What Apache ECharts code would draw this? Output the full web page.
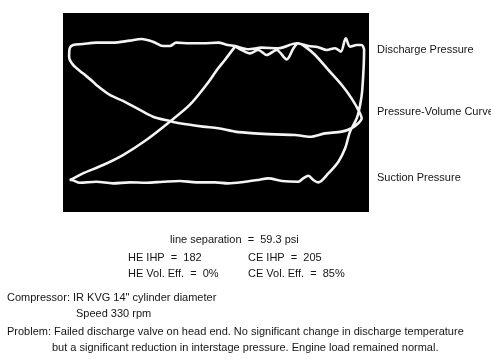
<!DOCTYPE html>
<html>
<head>
<meta charset="utf-8">
<script src="https://cdn.jsdelivr.net/npm/echarts@6/dist/echarts.min.js"></script>
<style>
html,body{margin:0;padding:0;background:#fff;}
#c{width:491px;height:359px;}
</style>
</head>
<body>
<div id="c"></div>
<script>
// Oscilloscope trace: x = cylinder volume (% of stroke), y = pressure (% of screen height)
const traceVolume = [
  56.2,58.4,61.1,63.8,66.6,69.8,73.1,75.3,76.9,79.1,82.4,86.7,91.1,94.3,96.5,97.6,96.5,94.3,91.1,85.6,80.7,75.8,69.3,62.7,56.2,50.7,45.8,38.1,34.9,29.4,25.1,19.6,15.3,10.9,9.8,6.5,3.3,2.0,2.2,
  3.3,6.5,10.9,16.3,21.8,25.6,29.4,32.7,34.9,37.0,41.4,45.8,50.7,53.9,56.2,60.6,64.9,70.4,76.4,80.2,83.4,86.2,88.9,90.8,92.4,93.8,96.0,97.6,98.4,
  97.8,97.1,96.0,93.8,92.2,90.0,86.7,83.4,
  81.8,80.2,78.5,76.9,71.5,67.1,63.8,59.5,54.0,49.7,43.6,38.1,32.7,27.2,21.8,16.3,10.9,5.5,2.7,2.2,
  2.7,6.5,13.1,19.6,27.2,34.9,41.4,46.8,50.7,52.9,56.2
];
const tracePressure = [
  83.4,81.4,79.7,81.4,78.9,81.4,76.7,82.3,84.8,83.1,78.9,71.4,63.8,57.1,51.3,47.1,44.6,42.1,40.4,39.5,37.8,38.7,39.0,39.5,40.4,42.1,42.9,44.6,45.7,47.9,51.3,55.8,58.8,63.8,65.5,69.7,73.9,78.0,82.3,
  83.9,84.4,85.1,85.1,86.1,86.9,85.6,83.4,83.4,85.1,84.8,84.8,85.1,83.9,83.4,81.8,82.6,82.3,84.8,83.4,82.8,81.4,82.3,80.6,87.3,83.1,83.9,83.9,81.4,
  61.3,53.8,47.1,40.4,32.0,25.3,19.4,14.9,
  16.1,18.2,16.9,15.2,15.6,16.9,16.1,15.2,14.4,14.9,14.9,15.6,15.2,14.7,14.9,14.4,15.2,14.7,16.1,16.1,
  16.4,19.4,23.6,28.6,36.2,45.4,53.8,63.8,72.2,76.4,83.1
];
const traceLabels = ["Discharge Pressure", "Pressure-Volume Curve", "Suction Pressure"];
const notes = {
  sep: "line separation  =  59.3 psi",
  heIhp: "HE IHP  =  182", ceIhp: "CE IHP  =  205",
  heVol: "HE Vol. Eff.  =  0%", ceVol: "CE Vol. Eff.  =  85%",
  comp1: "Compressor: IR KVG 14\" cylinder diameter", comp2: "Speed 330 rpm",
  prob1: "Problem: Failed discharge valve on head end. No significant change in discharge temperature",
  prob2: "but a significant reduction in interstage pressure. Engine load remained normal."
};

const data = traceVolume.map((v, i) => [v, tracePressure[i]]);
const font = '"Liberation Sans", Arial, sans-serif';
const txt = (x, y, s) => ({type:'text', left:x, top:y, style:{text:s, fill:'#151515', font:'11px ' + font}});

const chart = echarts.init(document.getElementById('c'), null, {renderer:'canvas'});
chart.setOption({
  backgroundColor:'#ffffff',
  animation:false,
  grid:{left:63, top:13, width:306, height:199, show:true, backgroundColor:'#000', borderWidth:0},
  xAxis:{type:'value', min:0, max:100, show:false},
  yAxis:{type:'value', min:0, max:100, show:false},
  series:[{
    type:'line', data:data, showSymbol:false, smooth:0.3,
    lineStyle:{color:'#f4f4f4', width:2.6}, z:3
  }],
  graphic:[
    txt(377, 44, traceLabels[0]),
    txt(377, 106, traceLabels[1]),
    txt(377, 172, traceLabels[2]),
    txt(170, 234, notes.sep),
    txt(128, 252, notes.heIhp), txt(248, 252, notes.ceIhp),
    txt(128, 268, notes.heVol), txt(248, 268, notes.ceVol),
    txt(7, 292, notes.comp1), txt(76, 308, notes.comp2),
    txt(7, 326, notes.prob1), txt(52, 342, notes.prob2)
  ]
});
</script>
</body>
</html>
